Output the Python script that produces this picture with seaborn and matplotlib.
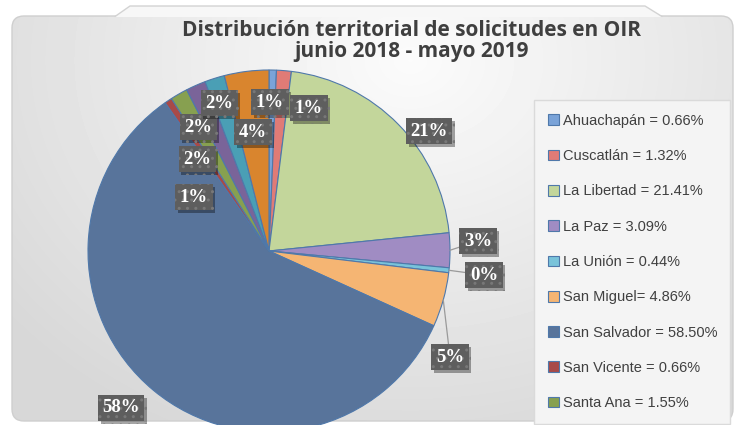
import numpy as np
import matplotlib
matplotlib.use("Agg")
import matplotlib.pyplot as plt
import matplotlib.patches as mpatches
import matplotlib.patheffects as pe
import seaborn as sns

# datos (porcentaje de solicitudes por departamento)
departamentos = ["Ahuachapán", "Cuscatlán", "La Libertad", "La Paz", "La Unión",
                 "San Miguel", "San Salvador", "San Vicente", "Santa Ana",
                 "Sonsonate", "Usulután", "Otros"]
porcentajes = [0.66, 1.32, 21.41, 3.09, 0.44, 4.86, 58.50, 0.66, 1.55, 1.77, 1.77, 3.97]
leyenda = ["Ahuachapán = 0.66%", "Cuscatlán = 1.32%", "La Libertad = 21.41%",
           "La Paz = 3.09%", "La Unión = 0.44%", "San Miguel= 4.86%",
           "San Salvador = 58.50%", "San Vicente = 0.66%", "Santa Ana = 1.55%"]
titulo = ["Distribución territorial de solicitudes en OIR", "junio 2018 - mayo 2019"]

colores = ["#7AA3D8", "#E07B76", "#C3D69B", "#A08CC3", "#79C3DA", "#F5B573",
           "#58749B", "#A84A48", "#87A050", "#7A6499", "#4A9FB5", "#D9852E"]

# posiciones de las etiquetas (pixeles, y desde arriba)
etiqueta_xy = [(270, 102), (309, 108), (429, 131), (478, 241), (484, 275),
               (450, 357), (121, 408), (194, 197), (197, 159), (198, 127),
               (219, 103), (253, 132)]
con_linea = [3, 4, 5]

W, H = 739, 425
CX, CY, R = 269, 251, 181

sns.set_theme(style="white")
plt.rcParams["font.family"] = ["Liberation Sans", "DejaVu Sans"]

fig = plt.figure(figsize=(W / 100, H / 100), dpi=100)
fig.patch.set_facecolor("white")
ax = fig.add_axes([0, 0, 1, 1])
ax.set_axis_off()

def py(y):
    return H - y

# marco con degradado
frame = mpatches.FancyBboxPatch((12, py(421)), 721, 405,
                                boxstyle="round,pad=0,rounding_size=12",
                                facecolor="none", edgecolor="#CFCFCF", lw=1.0, zorder=1)
ax.add_patch(frame)
yy, xx = np.mgrid[0:H, 0:W]
d = np.hypot(xx - 410, (yy - 60) * 1.25)
gris = 0.985 - 0.14 * np.clip(d / 520, 0, 1)
im = ax.imshow(gris, cmap="gray", vmin=0, vmax=1, extent=[0, W, 0, H],
               origin="upper", zorder=0, aspect="auto")
im.set_clip_path(frame)

tab = mpatches.Polygon([(115, py(17)), (130, py(6)), (645, py(6)), (662, py(17))],
                       closed=True, facecolor="#F7F7F7", edgecolor="none", zorder=1.5)
ax.add_patch(tab)
ax.plot([115, 130, 645, 662], [py(16.5), py(6), py(6), py(16.5)], color="#D3D3D3",
        lw=1.0, zorder=1.6)

# pastel
wedges, _ = ax.pie(porcentajes, colors=colores, startangle=90, counterclock=False,
                   center=(CX, py(CY)), radius=R,
                   wedgeprops=dict(edgecolor="#4F78AA", linewidth=0.8))
for w in wedges:
    w.set_zorder(3)
    w.set_clip_path(frame)

ax.set_xlim(0, W)
ax.set_ylim(0, H)
ax.set_aspect("equal")

# etiquetas
for i, (v, w) in enumerate(zip(porcentajes, wedges)):
    lx, ly = etiqueta_xy[i]
    if i in con_linea:
        ang = np.deg2rad((w.theta1 + w.theta2) / 2)
        ex, ey = CX + R * np.cos(ang), py(CY) + R * np.sin(ang)
        ax.plot([ex, lx], [ey, py(ly)], color="#9A9A9A", lw=0.9, zorder=4)
    t = ax.text(lx, py(ly), f"{int(round(v))}%", ha="center", va="center",
                fontsize=13.5, fontweight="bold", color="white",
                family=["Liberation Serif", "DejaVu Serif"], zorder=6,
                bbox=dict(boxstyle="square,pad=0.24", facecolor="#5E5E5E",
                          edgecolor="#787878", linewidth=0, hatch=".."))
    t.get_bbox_patch().set_path_effects(
        [pe.withSimplePatchShadow(offset=(2, -2), shadow_rgbFace="black", alpha=0.35)])

# titulo
for linea, yt in zip(titulo, [30, 51]):
    ax.text(412, py(yt), linea, ha="center", va="center", fontsize=15,
            fontweight="bold", color="#3F3F3F", family=["Open Sans", "DejaVu Sans"],
            zorder=6)

# leyenda
leg = ax.legend(wedges[:len(leyenda)], leyenda, loc="upper left",
                bbox_to_anchor=(534 / W, py(100) / H, 196 / W, 0.0),
                bbox_transform=ax.transAxes, mode="expand",
                frameon=True, fancybox=False, facecolor="#F4F4F4", edgecolor="#DADADA",
                framealpha=1, handlelength=0.75, handleheight=0.75,
                handletextpad=0.3, labelspacing=1.46, borderpad=0.95,
                borderaxespad=0, prop=dict(family="Liberation Sans", size=10.5))
for txt in leg.get_texts():
    txt.set_color("#404040")
leg.set_zorder(7)

fig.savefig("out.png", dpi=100)
